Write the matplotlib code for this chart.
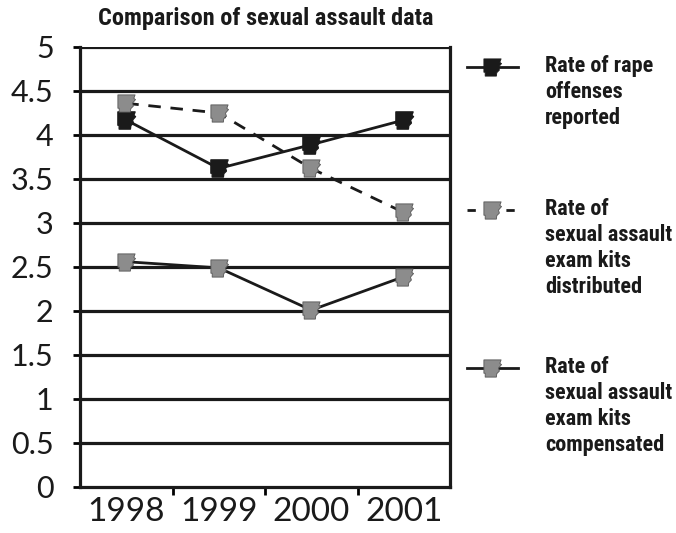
import matplotlib
matplotlib.use("Agg")
import matplotlib.pyplot as plt
from matplotlib.path import Path
import numpy as np

# ==== dados ====
anos = ["1998", "1999", "2000", "2001"]
estupros = [4.17, 3.62, 3.89, 4.17]
kits_distribuidos = [4.36, 4.25, 3.62, 3.12]
kits_compensados = [2.56, 2.49, 2.01, 2.39]
yticks = [0, 0.5, 1, 1.5, 2, 2.5, 3, 3.5, 4, 4.5, 5]
ytick_labels = ["0", "0.5", "1", "1.5", "2", "2.5", "3", "3.5", "4", "4.5", "5"]
legenda = ["Rate of rape\noffenses\nreported",
           "Rate of\nsexual assault\nexam kits\ndistributed",
           "Rate of\nsexual assault\nexam kits\ncompensated"]

# marcador com forma do estado (aprox.)
verts = [(-1, 1), (1, 1), (0.85, 0.6), (1.05, 0.45), (0.7, 0.05), (0.8, -0.3),
         (0.5, -0.6), (0.45, -1), (-0.85, -1), (-0.85, -0.55), (-1, -0.55), (-1, 1)]
marcador = Path(verts, [Path.MOVETO] + [Path.LINETO] * (len(verts) - 2) + [Path.CLOSEPOLY])

fonte_num = "Lato"
fonte_bold = ["Roboto Condensed", "Roboto", "DejaVu Sans"]
cinza = "#8c8c8c"
preto = "#1a1a1a"

fig = plt.figure(figsize=(6.76, 5.33), dpi=100)
ax = fig.add_axes([80 / 676, 1 - 487 / 533, 370 / 676, 440 / 533])

for v in yticks[1:]:
    ax.axhline(v, color=preto, lw=2.3, zorder=1)

x = np.arange(len(anos))
ax.plot(x, estupros, color=preto, lw=2.0, marker=marcador, ms=13,
        mfc=preto, mec=preto, zorder=3)
ax.plot(x, kits_distribuidos, color=preto, lw=2.0, ls=(0, (4.5, 3.5)), marker=marcador, ms=13,
        mfc=cinza, mec="#555555", mew=0.6, zorder=3)
ax.plot(x, kits_compensados, color=preto, lw=2.0, marker=marcador, ms=13,
        mfc=cinza, mec="#555555", mew=0.6, zorder=3)

ax.set_xlim(-0.5, 3.5)
ax.set_ylim(0, 5)
ax.set_yticks(yticks)
ax.set_yticklabels(ytick_labels, fontsize=22, family=fonte_num, color=preto)
ax.set_xticks(x)
ax.set_xticklabels(anos, fontsize=24, family=fonte_num, color=preto)
ax.set_xticks([0.5, 1.5, 2.5], minor=True)
ax.tick_params(axis="x", which="major", length=0, pad=7)
ax.tick_params(axis="x", which="minor", length=6, width=2, direction="out")
ax.tick_params(axis="y", length=5, width=2, direction="out", pad=14)
ax.spines["top"].set_visible(False)
for s in ["left", "right", "bottom"]:
    ax.spines[s].set_linewidth(2.3)
    ax.spines[s].set_color(preto)

fig.text(266 / 676, 1 - 19 / 533, "Comparison of sexual assault data", ha="center", va="center",
         fontsize=17.5, fontweight="bold", family=fonte_bold, color=preto)

# legenda desenhada a mao
lg = fig.add_axes([0, 0, 1, 1])
lg.set_xlim(0, 676)
lg.set_ylim(533, 0)
lg.axis("off")
estilos = [("-", preto, preto), ((0, (3, 4)), cinza, "#555555"), ("-", cinza, "#555555")]
pos_y = [67, 210, 368]
for (ls, fc, ec), yy, txt in zip(estilos, pos_y, legenda):
    lg.plot([467, 518], [yy, yy], color=preto, lw=2.0, ls=ls)
    lg.plot([492], [yy], marker=marcador, ms=13, mfc=fc, mec=ec, mew=0.6, ls="none")
    lg.text(545, yy - 12, txt, ha="left", va="top", fontsize=16, fontweight="bold",
            family=fonte_bold, linespacing=1.24, color=preto)

fig.savefig("out.png", dpi=100)
